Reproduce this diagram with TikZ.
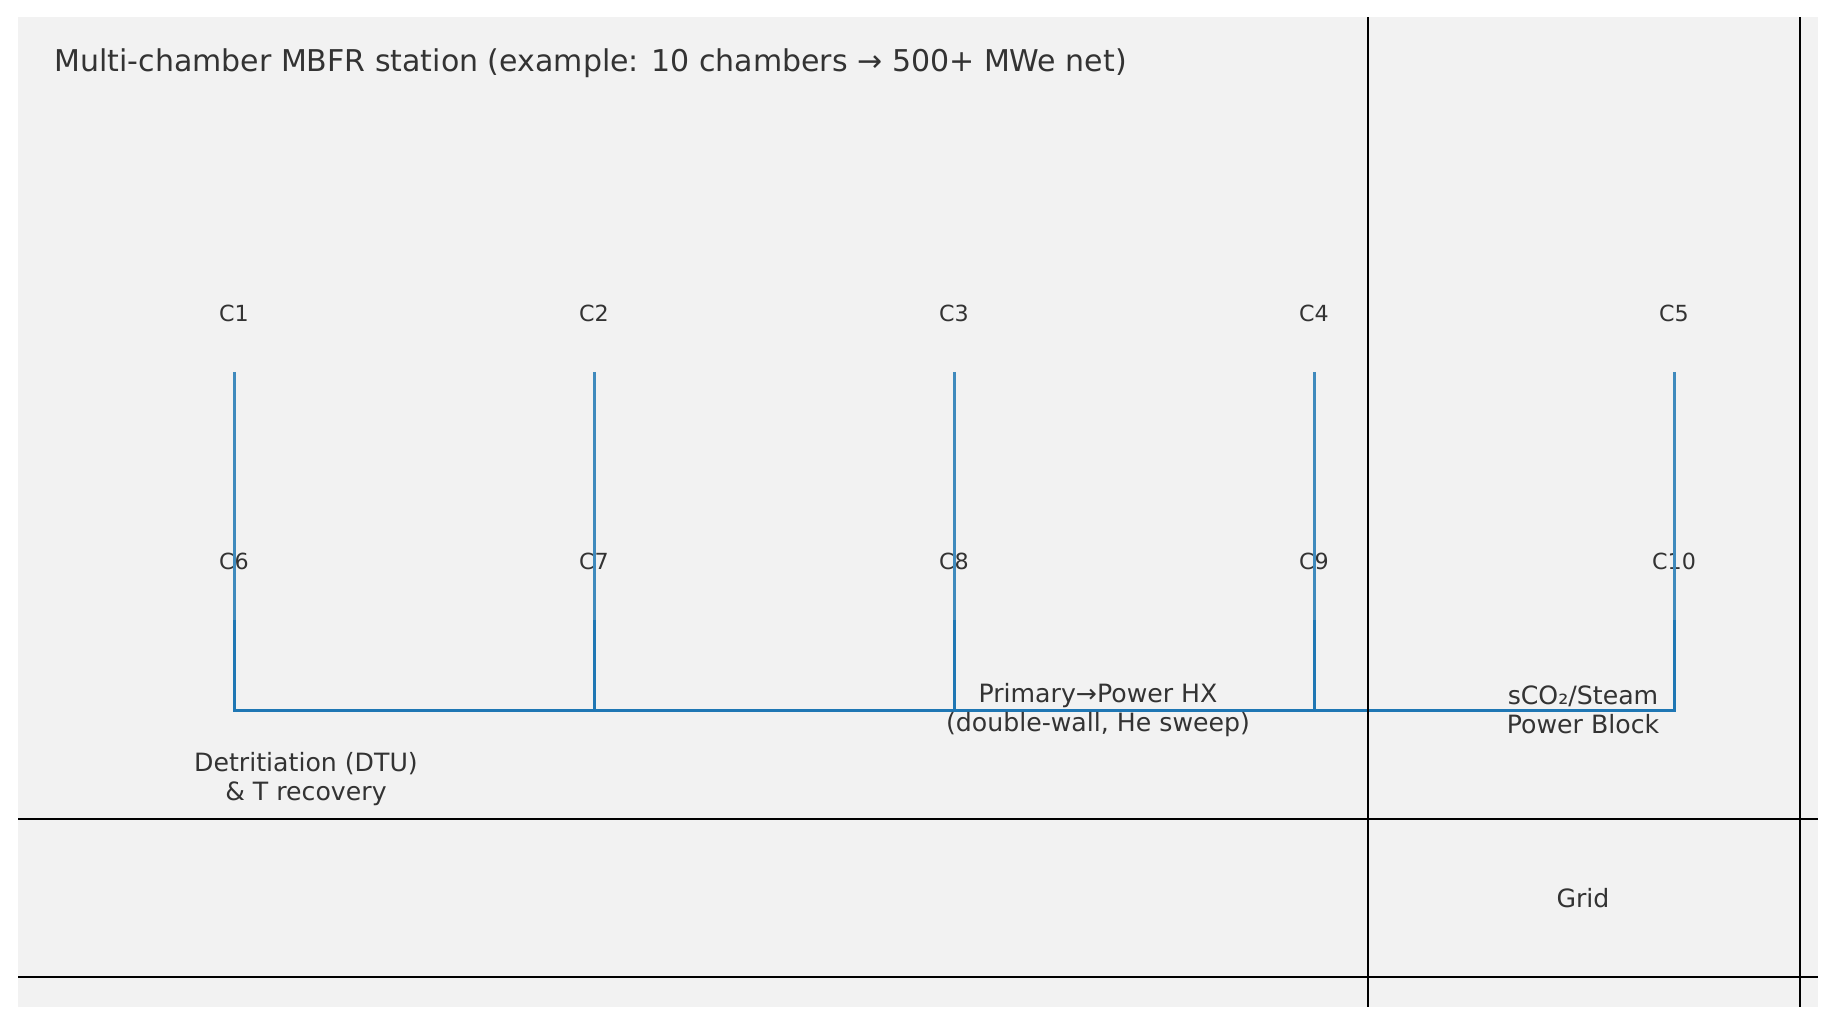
\documentclass[tikz,border=0pt]{standalone}
\usepackage{fontspec}
\setmainfont{DejaVu Sans}
\usepackage{xcolor}
\definecolor{PanelGray}{HTML}{F2F2F2}
\definecolor{PipeBlue}{HTML}{1F77B4}
\definecolor{PipeLight}{HTML}{3F8ABD}
\definecolor{InkGray}{HTML}{333333}

\begin{document}
\begin{tikzpicture}[x=0.5pt, y=-0.5pt,
  every node/.style={font=\fontsize{12.6}{14.5}\selectfont, text=InkGray, inner sep=0pt, align=center},
  chamber/.style={font=\fontsize{11.1}{13}\selectfont},
  pipe/.style={line width=1.5pt, line join=miter},
  rule/.style={black, line width=1.2pt}]
\useasboundingbox (0,0) rectangle (1835,1025);
\fill[PanelGray] (18,17) rectangle (1818,1007);
\node[anchor=west, font=\fontsize{15}{18}\selectfont] (title) at (54,63) {Multi-chamber MBFR station (example: 10 chambers → 500+ MWe net)};
% chamber rows
\node[chamber] (c1) at (234,313) {C1};
\node[chamber] (c2) at (594,313) {C2};
\node[chamber] (c3) at (954,313) {C3};
\node[chamber] (c4) at (1314,313) {C4};
\node[chamber] (c5) at (1674,313) {C5};
\node[chamber] (c6) at (234,561) {C6};
\node[chamber] (c7) at (594,561) {C7};
\node[chamber] (c8) at (954,561) {C8};
\node[chamber] (c9) at (1314,561) {C9};
\node[chamber] (c10) at (1674,561) {C10};
% header pipes
\coordinate (p1) at (234,372); \coordinate (q1) at (234,620); \coordinate (h1) at (234,710);
\coordinate (p2) at (594,372); \coordinate (q2) at (594,620); \coordinate (h2) at (594,710);
\coordinate (p3) at (954,372); \coordinate (q3) at (954,620); \coordinate (h3) at (954,710);
\coordinate (p4) at (1314,372); \coordinate (q4) at (1314,620); \coordinate (h4) at (1314,710);
\coordinate (p5) at (1674,372); \coordinate (q5) at (1674,620); \coordinate (h5) at (1674,710);
\draw[pipe, PipeLight] (p1) -- (q1);
\draw[pipe, PipeLight] (p2) -- (q2);
\draw[pipe, PipeLight] (p3) -- (q3);
\draw[pipe, PipeLight] (p4) -- (q4);
\draw[pipe, PipeLight] (p5) -- (q5);
\draw[pipe, PipeBlue] (q1) -- (h1) -- (h5) -- (q5);
\draw[pipe, PipeBlue] (q2) -- (h2);
\draw[pipe, PipeBlue] (q3) -- (h3);
\draw[pipe, PipeBlue] (q4) -- (h4);
% plant blocks
\node (hx) at (1098,710) {Primary→Power HX\\(double-wall, He sweep)};
\node (pb) at (1583,710) {sCO₂/Steam\\Power Block};
\node (dtu) at (306,779) {Detritiation (DTU)\\\& T recovery};
\node (grid) at (1583,898) {Grid};
% frame lines
\draw[rule] (18,819) -- (1818,819);
\draw[rule] (18,977) -- (1818,977);
\draw[rule] (1368,17) -- (1368,1007);
\draw[rule] (1800,17) -- (1800,1007);
\end{tikzpicture}
\end{document}
